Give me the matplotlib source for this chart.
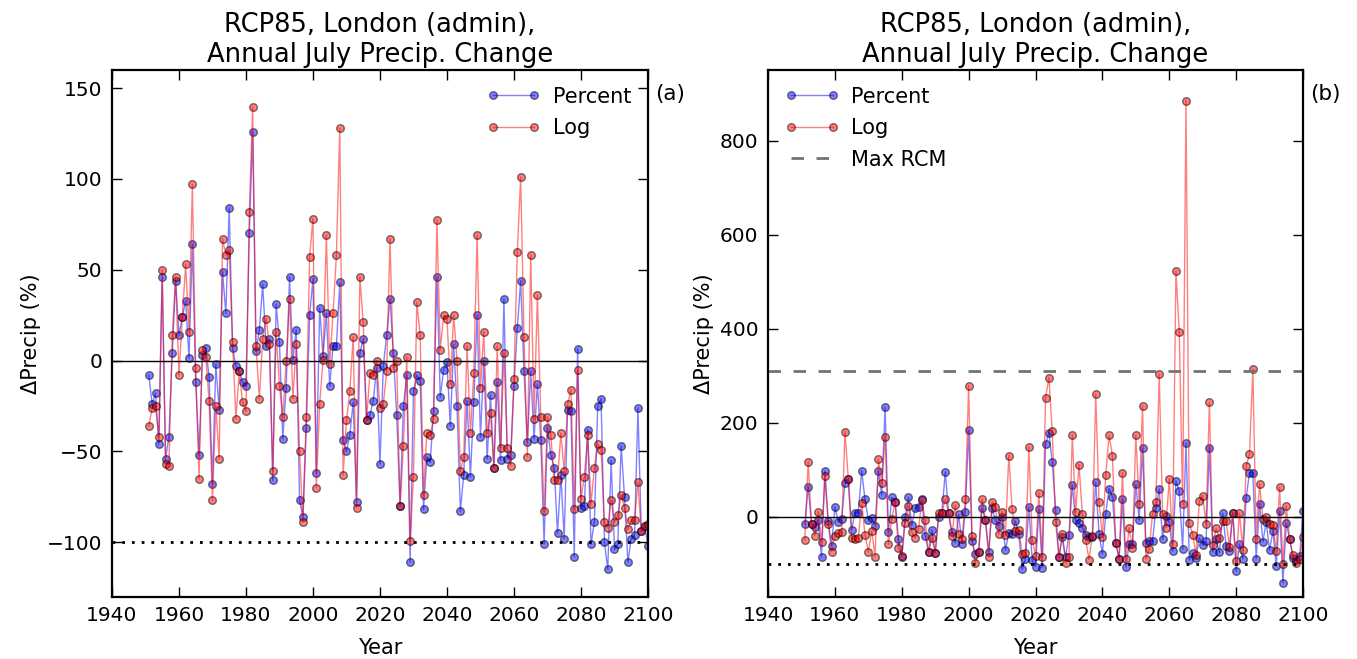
import numpy as np
import matplotlib
matplotlib.use("Agg")
import matplotlib.pyplot as plt

years = np.arange(1951, 2101)

pct_a = [
    -8, -24, -18, -46, 46, -54, -42, 4, 44, 14,
    24, 33, 1.5, 64, -12, -52, 3, 7, -9, -68,
    -2, -27, 49, 26, 84, 7, -3, -6, -12, -14,
    70, 126, 5, 17, 42, 8, 12, -66, 31, 10,
    -43, -15, 46, 0.5, 17, -77, -86, -37, 25, 45,
    -62, 29, 2.6, 26, -14, 8, 8, 43, -44, -50,
    -41, -23, -78, 4, 12, -33, -30, -22, -4, -57,
    -3, 14, 34, 4, -30, -80, -25, -8, -111, -17,
    -8, -11, -82, -53, -56, -28, 46, -20, -5, -1,
    -36, 9, -25, -83, -63, -22, -64, -23, 25, -42,
    0, -54, -19, -59, -12, -55, 34, -54, -52, -14,
    18, 44, -6, -45, -6, -43, -13, -44, -101, -37,
    -52, -59, -95, -63, -98, -27, -28, -108, 6.5, -81,
    -80, -38, -101, -89, -25, -21, -100, -115, -55, -104,
    -101, -47, -75, -111, -98, -96, -26, -94, -91, -102,
]
log_a = [
    -36, -26, -25, -42, 50, -57, -58, 14, 46, -8,
    24, 53, 16, 97, -4, -65, 6, 2, -22, -77,
    -25, -54, 67, 58, 61, 10, -32, -6, -23, -28,
    82, 139.5, 8, -21, 12, 23, 9, -61, 16, -14,
    -31, 0, 34, -21, 9, -50, -89, -31, 57, 78,
    -70, -24, 0.5, 69, -2, 26, 58, 128, -63, -33,
    -17, 13, -81, 46, 21, -33, -7, -8, 0, -26,
    -24, -6, 67, -4, 0, -80, -47, 2, -99.5, -64,
    32, 14, -74, -40, -41, -32, 77.5, 6, 25, 23,
    -13, 25, 0, -61, -53, 8, -40, -7, 69, -15,
    16, -40, -29, -59, 8, -48, 4, -48, -58, -10,
    60, 101, 13, -53, 58, -32, 36, -31, -83, -31,
    -41, -66, -66, -40, -61, -24, -16, -82, -5, -76,
    -64, -41, -79, -59, -46, -49, -89, -92, -77, -89,
    -85, -74, -81, -93, -88, -88, -67, -94, -91, -90,
]
pct_b = [
    -16, 64, -16, -21, -6, -86, 97, -9, -62, 21,
    -11, -4, 71, 80, -28, 8.5, 8.5, 97, 37, -7,
    -2, -19, 97, 46, 233, -33, 41, 32, -48, -85,
    0, 41, -18, 18, 21, 37, -40, -76, -28, -77,
    0, 8.5, 95, 8.5, -32, -55, 5, -57, 11, 184,
    -52, -80, -74, 18, -6, -74, 18, -8, -19, 0,
    -71, -35, -37, -9, -37, -112, -89, 21, -93, -106,
    16, -108, 154, 179, 117, 14, -86, -44, -86, -38,
    67, -8, -13, -24, -39, -44, -44, 73, -36, -79,
    6, 60, 42, -56, -89, 37, -107, -59, -57, 69,
    -7, 146, -56, -52, -52, 18, 59, -48, 1, -12,
    -73, 76, 54, -69, 157, -92, -78, -87, -45, -60,
    -51, 147, -75, -47, -76, 7, -62, -73, 8, -116,
    -58, -89, 40, 94, 94, -89, 28, -53, -12, -71,
    -30, -105, 12, -140, -14, -47, -87, -92, -84, 12,
]
log_b = [
    -50, 117, -16, -40, 11, -54, 86, -16, -74, -40,
    -35, -33, 181, 80, -46, -48, -45, 30, -38, -75,
    -30, -85, 122, 71, 170, -58, -4, 32, -67, -84,
    -13, 23, -33, -45, -26, 35, -7, -76, -46, -77,
    7, 8.5, 38, 7, -41, 25, -37, -48, 38, 279,
    -40, -99, -74, 38, -6, -85, 32, 21, -37, 11,
    -39, 130, 16, -30, -28, -79, -77, 148, -49, -83,
    51, -86, 253, 296, 182, -11, -86, -36, -99, -86,
    174, 9, 111, 6, -49, -91, -40, 260, 31, -44,
    89, 173, 130, -56, -89, 94, -89, -24, -66, 173,
    26, 236, -89, -69, 6, 31, 303, 6, -23, 81,
    -58, 522, 393, 26, 885, -14, -38, -81, 34, 45,
    -16, 243, -60, -25, -45, -10, -9, -64, 8, -95,
    8, -70, 107, 133, 314, -47, 70, -5, -1, -16,
    -18, -73, 63, -100, 23, -47, -81, -98, -89, -43,
]
max_rcm = 310
title = "RCP85, London (admin),\nAnnual July Precip. Change"
xticks = [1940, 1960, 1980, 2000, 2020, 2040, 2060, 2080, 2100]
yticks_a = [-100, -50, 0, 50, 100, 150]
yticks_b = [0, 200, 400, 600, 800]

plt.rcParams['font.family'] = ['DejaVu Sans']

fig = plt.figure(figsize=(13.57, 6.59), dpi=100)
ax1 = fig.add_axes([0.0825, 0.0946, 0.395, 0.7992])
ax2 = fig.add_axes([0.566, 0.0946, 0.3942, 0.7992])

def draw(ax, pct, logv, ylim, yticks, legloc, panel, with_max):
    ax.plot(years, pct, 'o-', color='b', alpha=0.5, mec='k', ms=5.5, lw=1,
            label='Percent')
    ax.plot(years, logv, 'o-', color='r', alpha=0.5, mec='k', ms=5.5, lw=1,
            label='Log')
    ax.axhline(0, color='k', lw=1)
    ax.axhline(-100, color='k', lw=2, ls=(0, (1, 2.5)))
    if with_max:
        ax.axhline(max_rcm, color='0.45', lw=2, ls=(0, (4.5, 4.5)),
                   label='Max RCM')
    ax.set_xlim(1940, 2100)
    ax.set_ylim(*ylim)
    ax.set_xticks(xticks)
    ax.set_yticks(yticks)
    ax.tick_params(direction='in', top=True, right=True, length=7, width=1,
                   labelsize=14.5, pad=7)
    for s in ax.spines.values():
        s.set_linewidth(1.6)
    ax.set_title(title, fontsize=18.5, pad=6)
    ax.set_xlabel('Year', fontsize=15, labelpad=9)
    ax.set_ylabel('ΔPrecip (%)', fontsize=15)
    ax.legend(loc=legloc, frameon=False, numpoints=2, fontsize=15,
              handlelength=2.6, handletextpad=0.6, labelspacing=0.55,
              borderaxespad=0.4)
    ax.text(1.013, 0.955, panel, transform=ax.transAxes, fontsize=15.5,
            ha='left', va='center')

draw(ax1, pct_a, log_a, (-130, 160), yticks_a, 'upper right', '(a)', False)
draw(ax2, pct_b, log_b, (-170, 950), yticks_b, 'upper left', '(b)', True)

fig.savefig('out.png', dpi=100, facecolor='white')
